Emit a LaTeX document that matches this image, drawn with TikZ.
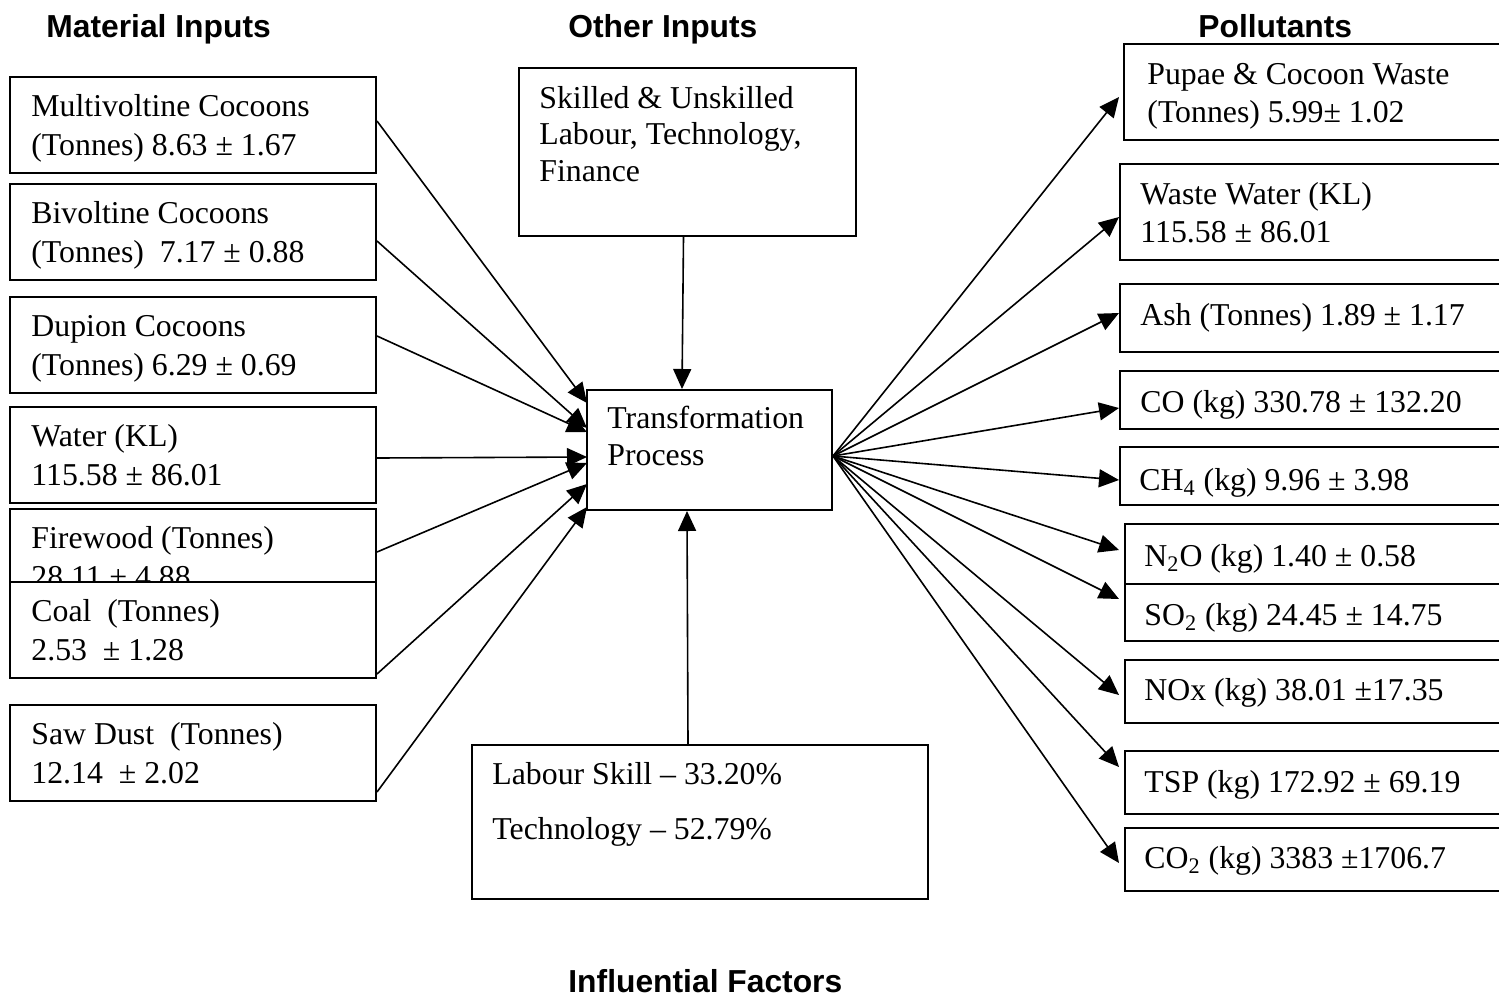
\documentclass[tikz,border=0pt]{standalone}
\usepackage{fontspec}
\setmainfont{Liberation Serif}
\newfontfamily\headfont{Liberation Sans}
\usetikzlibrary{arrows.meta,calc}

% Text nodes are placed by the baseline of their last line.
\tikzset{
  box/.style={draw, line width=1pt, fill=white, inner sep=0pt, anchor=north west},
  size/.style 2 args={minimum width=#1*0.5pt, minimum height=#2*0.5pt},
  txt/.style={inner sep=0pt, anchor=base west, align=left,
              font=\fontsize{15.9}{19.25}\selectfont},
  head/.style={inner sep=0pt, anchor=base west,
               font=\headfont\bfseries\fontsize{15.9}{19}\selectfont},
  flow/.style={line width=0.8pt, -{Triangle[length=10pt,width=9pt]}}
}

\begin{document}
\begin{tikzpicture}[x=0.5pt, y=-0.5pt]
\useasboundingbox (0,0) rectangle (1499,997);
\clip (0,0) rectangle (1499,997);

% column headings
\node[head] (hmat) at (46,37) {Material Inputs};
\node[head] (hoth) at (568,37) {Other Inputs};
\node[head] (hpol) at (1198,37) {Pollutants};
\node[head] (hinf) at (568,992) {Influential Factors};

% material inputs
\node[box, size={366}{96}] (mv) at (9,76) {};
\node[txt] (mvt) at ($(mv.north west)+(22,79)$) {Multivoltine Cocoons\\(Tonnes) 8.63 ± 1.67};
\node[box, size={366}{96}] (bv) at (9,183) {};
\node[txt] (bvt) at ($(bv.north west)+(22,79)$) {Bivoltine Cocoons\\(Tonnes)\ \ 7.17 ± 0.88};
\node[box, size={366}{96}] (dp) at (9,296) {};
\node[txt] (dpt) at ($(dp.north west)+(22,79)$) {Dupion Cocoons\\(Tonnes) 6.29 ± 0.69};
\node[box, size={366}{96}] (wa) at (9,406) {};
\node[txt] (wat) at ($(wa.north west)+(22,79)$) {Water (KL)\\115.58 ± 86.01};
\node[box, size={366}{96}] (fw) at (9,508) {};
\node[txt] (fwt) at ($(fw.north west)+(22,79)$) {Firewood (Tonnes)\\28.11 ± 4.88};
\node[box, size={366}{96}] (cl) at (9,581) {};
\node[txt] (clt) at ($(cl.north west)+(22,79)$) {Coal\ \ (Tonnes)\\2.53\ \ ± 1.28};
\node[box, size={366}{96}] (sd) at (9,704) {};
\node[txt] (sdt) at ($(sd.north west)+(22,79)$) {Saw Dust\ \ (Tonnes)\\12.14\ \ ± 2.02};

% other inputs, process and influential factors
\node[box, size={337}{168}] (oi) at (518,67) {};
\node[txt, font=\fontsize{15.9}{18.25}\selectfont] (oit) at ($(oi.north west)+(21,114)$)
  {Skilled \& Unskilled\\Labour, Technology,\\Finance};
\node[box, size={245}{120}] (tp) at (586,389) {};
\node[txt, font=\fontsize{15.9}{18.5}\selectfont] (tpt) at ($(tp.north west)+(21,76)$)
  {Transformation\\Process};
\node[box, size={456}{154}] (lb) at (471,744) {};
\node[txt, font=\fontsize{15.9}{27.5}\selectfont] (lbt) at ($(lb.north west)+(21,95)$)
  {Labour Skill -- 33.20\%\\Technology -- 52.79\%};

% pollutants
\node[box, size={382}{96}] (pw) at (1123,43) {};
\node[txt, font=\fontsize{15.9}{19}\selectfont] (pwt) at ($(pw.north west)+(24,79)$) {Pupae \& Cocoon Waste\\(Tonnes) 5.99± 1.02};
\node[box, size={386}{96}] (ww) at (1119,163) {};
\node[txt, font=\fontsize{15.9}{19}\selectfont] (wwt) at ($(ww.north west)+(21,79)$) {Waste Water (KL)\\115.58 ± 86.01};
\node[box, size={386}{68}] (ash) at (1119,283) {};
\node[txt] (asht) at ($(ash.north west)+(21,42)$) {Ash (Tonnes) 1.89 ± 1.17};
\node[box, size={386}{58}] (co) at (1119,370) {};
\node[txt] (cot) at ($(co.north west)+(21,42)$) {CO (kg) 330.78 ± 132.20};
\node[box, size={386}{58}] (chf) at (1119,446) {};
\node[txt] (chft) at ($(chf.north west)+(20,44)$) {CH\textsubscript{4} (kg) 9.96 ± 3.98};
\node[box, size={381}{60}] (nto) at (1124,523) {};
\node[txt] (ntot) at ($(nto.north west)+(20,43)$) {N\textsubscript{2}O (kg) 1.40 ± 0.58};
\node[box, size={381}{57}] (sot) at (1124,583) {};
\node[txt] (sott) at ($(sot.north west)+(20,42)$) {SO\textsubscript{2} (kg) 24.45 ± 14.75};
\node[box, size={381}{63}] (nox) at (1124,659) {};
\node[txt] (noxt) at ($(nox.north west)+(20,41)$) {NOx (kg) 38.01 ±17.35};
\node[box, size={381}{63}] (tsp) at (1124,750) {};
\node[txt] (tspt) at ($(tsp.north west)+(20,42)$) {TSP (kg) 172.92 ± 69.19};
\node[box, size={381}{63}] (cot2) at (1124,827) {};
\node[txt] (cot2t) at ($(cot2.north west)+(20,41)$) {CO\textsubscript{2} (kg) 3383 ±1706.7};

% inputs into the process
\draw[flow] ($(mv.east)+(0,-4)$) -- ($(tp.north west)+(1,14)$);
\draw[flow] ($(bv.east)+(0,9)$)  -- ($(tp.north west)+(1,39)$);
\draw[flow] ($(dp.east)+(0,-9)$) -- ($(tp.north west)+(1,43)$);
\draw[flow] ($(wa.east)+(0,3)$)  -- ($(tp.north west)+(1,68)$);
\draw[flow] ($(fw.north east)+(0,44)$) -- ($(tp.north west)+(1,74)$);
\draw[flow] ($(cl.south east)+(0,-5)$) -- ($(tp.north west)+(1,95)$);
\draw[flow] ($(sd.south east)+(0,-10)$) -- ($(tp.north west)+(1,118)$);
\draw[flow] ($(oi.south)+(-4,0)$) -- ($(tp.north west)+(96,0)$);
\draw[flow] ($(lb.north)+(-12,0)$) -- ($(tp.south west)+(101,0)$);

% process outputs
\coordinate (fan) at ($(tp.east)+(0,6)$);
\draw[flow] (fan) -- ($(pw.north west)+(-4,54)$);
\draw[flow] (fan) -- ($(ww.north west)+(0,54)$);
\draw[flow] (fan) -- ($(ash.north west)+(0,30)$);
\draw[flow] (fan) -- ($(co.north west)+(0,38)$);
\draw[flow] (fan) -- ($(chf.north west)+(0,34)$);
\draw[flow] (fan) -- ($(nto.north west)+(-5,27)$);
\draw[flow] (fan) -- ($(sot.north west)+(-5,16)$);
\draw[flow] (fan) -- ($(nox.north west)+(-5,36)$);
\draw[flow] (fan) -- ($(tsp.north west)+(-5,17)$);
\draw[flow] (fan) -- ($(cot2.north west)+(-5,36)$);
\end{tikzpicture}
\end{document}
